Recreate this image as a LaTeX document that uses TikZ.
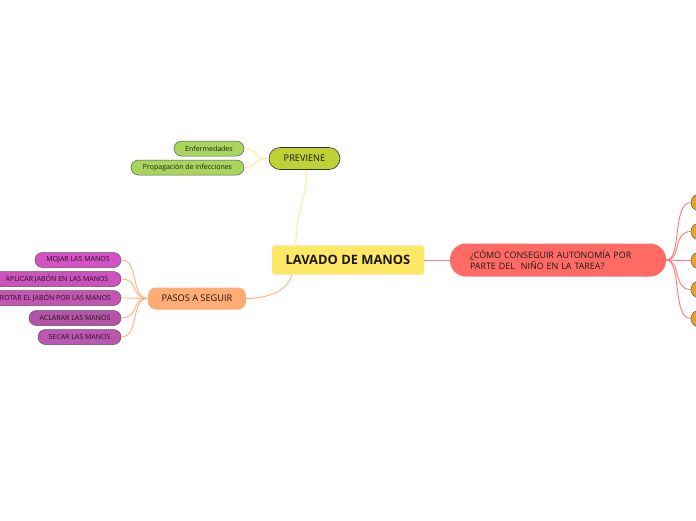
\documentclass[tikz,border=0pt]{standalone}
\usepackage{fontspec}
\setmainfont{Open Sans}
\definecolor{cyel}{HTML}{FFE866}
\definecolor{cyelb}{HTML}{F2E4A6}
\definecolor{cgrn}{HTML}{BFD134}
\definecolor{clgrn}{HTML}{A8D65C}
\definecolor{corg}{HTML}{FFAB76}
\definecolor{cred}{HTML}{FF6B64}
\definecolor{cylin}{HTML}{FFEA8C}
\definecolor{colin}{HTML}{FFB27E}
\definecolor{crlin}{HTML}{FF7A75}
\definecolor{cm1}{HTML}{D650C6}
\definecolor{cm2}{HTML}{CD52BD}
\definecolor{cm3}{HTML}{C455B4}
\definecolor{cm4}{HTML}{B553A9}
\definecolor{cm5}{HTML}{BC56B0}
\definecolor{cor2}{HTML}{EBA126}
\begin{document}
\begin{tikzpicture}[x=1pt,y=-1pt,
  leaf/.style={draw=black!65,line width=0.5pt,rounded corners=7.5pt,minimum height=15pt,inner sep=0pt,font=\fontsize{7}{8}\selectfont,text=black!90},
  gleaf/.style={leaf,fill=clgrn},
  yline/.style={cylin,line width=0.9pt},
  oline/.style={colin,line width=0.9pt},
  rline/.style={crlin,line width=0.9pt}]
\useasboundingbox (0,0) rectangle (696,520);
\clip (0,0) rectangle (696,520);
\fill[white] (0,0) rectangle (696,520);
% nodes
\node[draw=cyelb,fill=cyel,rounded corners=3pt,minimum width=152pt,minimum height=29pt,inner sep=0pt,font=\fontsize{12.9}{14}\selectfont\bfseries,text=black!90] (main) at (348,260) {LAVADO DE MANOS};
\node[draw=black!80,line width=0.6pt,fill=cgrn,rounded corners=11pt,minimum width=71pt,minimum height=22pt,inner sep=0pt,font=\fontsize{9.2}{11}\selectfont,text=black!90] (prev) at (304.5,158.5) {PREVIENE};
\node[gleaf,minimum width=70pt] (enf) at (209,148.5) {Enfermedades};
\node[gleaf,minimum width=113pt] (prop) at (187.5,167.5) {Propagación de infecciones};
\node[fill=corg,rounded corners=8pt,minimum width=98pt,minimum height=22pt,inner sep=0pt,font=\fontsize{9.2}{11}\selectfont,text=black!90] (pasos) at (197,298.5) {PASOS A SEGUIR};
\node[leaf,fill=cm1,minimum width=86pt] (p1) at (78,260) {MOJAR LAS MANOS};
\node[leaf,fill=cm2,minimum width=128pt] (p2) at (57,279) {APLICAR JABÓN EN LAS MANOS};
\node[leaf,fill=cm3,minimum width=131pt] (p3) at (55.5,298) {ROTAR EL JABÓN POR LAS MANOS};
\node[leaf,fill=cm4,minimum width=92pt] (p4) at (75,318) {ACLARAR LAS MANOS};
\node[leaf,fill=cm5,minimum width=83pt] (p5) at (79.5,337) {SECAR LAS MANOS};
\node[fill=cred,rounded corners=16pt,minimum width=216pt,minimum height=33pt,inner sep=0pt,text width=176pt,align=left,font=\fontsize{8.9}{11.5}\selectfont,text=black!90] (q) at (558,260) {¿CÓMO CONSEGUIR AUTONOMÍA POR\\PARTE DEL\ \ NIÑO EN LA TAREA?};
\foreach \i/\yy in {1/202.5,2/231.5,3/260.5,4/289.5,5/318.5}{
  \node[leaf,fill=cor2,minimum width=80pt,minimum height=17pt,rounded corners=8.5pt] (r\i) at (731,\yy) {};
}
% connectors
\draw[yline] (main.north west) ++(24,0) coordinate (mt) .. controls (296,205) and (312,185) .. (prev.south);
\draw[oline] (main.south west) ++(20,0) coordinate (mb) .. controls (288,292) and (265,298.5) .. (pasos.east);
\draw[yline] (prev.west) .. controls (252,158.5) and (258,148.5) .. (enf.east);
\draw[yline] (prev.west) .. controls (252,158.5) and (258,167.5) .. (prop.east);
\foreach \c in {p1,p2,p3,p4,p5}{
  \draw[oline] (pasos.west) .. controls (130,298.5) and (140,0 |- \c.east) .. ([xshift=-0.3pt]\c.east);
}
\draw[rline] (main.east) -- (q.west);
\foreach \i in {1,...,5}{
  \draw[rline] (q.east) .. controls (682,260.5) and (672,0 |- r\i.west) .. (r\i.west);
}
\end{tikzpicture}
\end{document}
